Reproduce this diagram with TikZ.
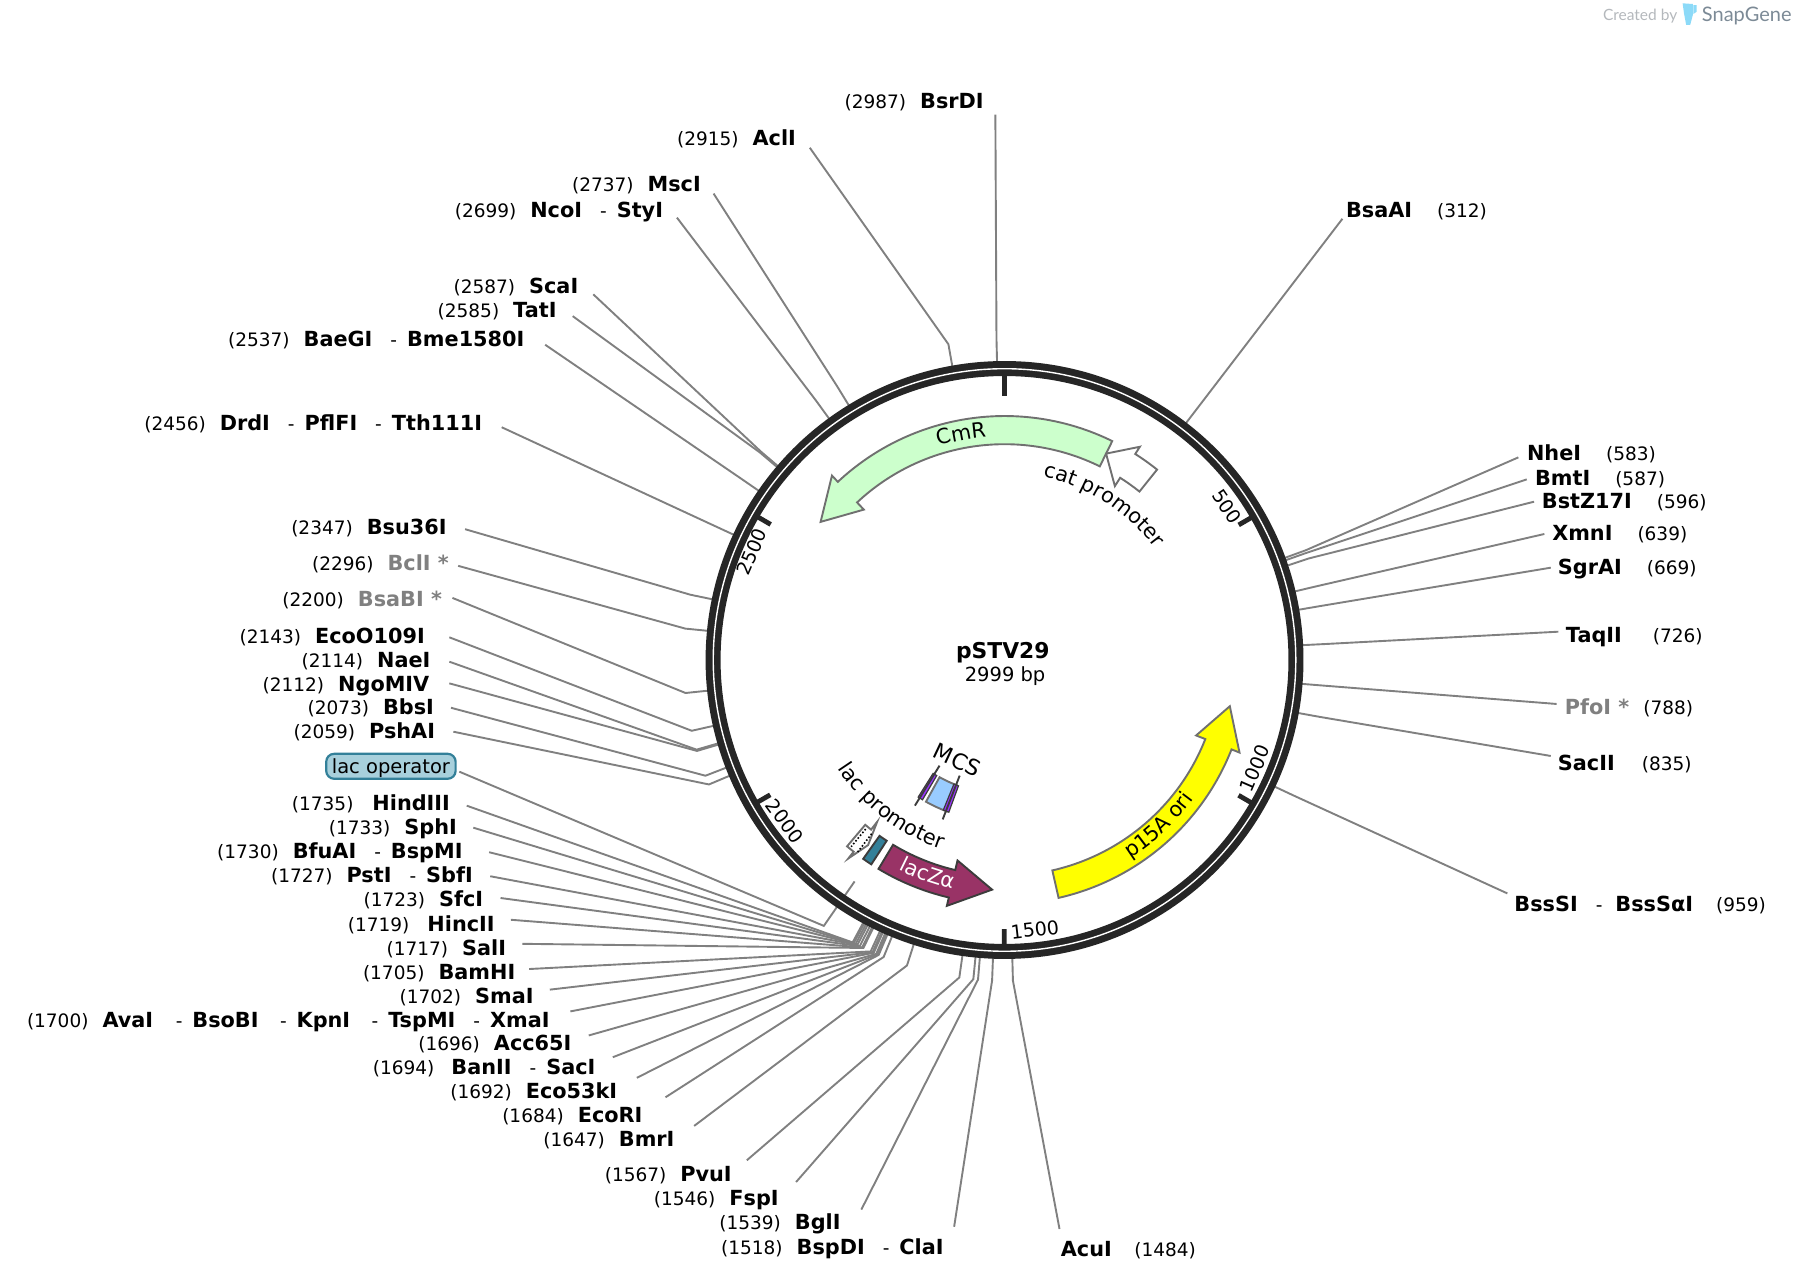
\documentclass[tikz,border=0pt]{standalone}
\usepackage{fontspec}
\setmainfont{DejaVu Sans}
\newfontfamily\logofont{Lato}
\usetikzlibrary{calc,decorations.text}
\definecolor{ringdark}{HTML}{262626}
\definecolor{leadgray}{HTML}{808080}
\definecolor{edgegray}{HTML}{707070}
\definecolor{cmrgreen}{HTML}{CCFFCC}
\definecolor{oriyellow}{HTML}{FFFF00}
\definecolor{laczred}{HTML}{993366}
\definecolor{opteal}{HTML}{338099}
\definecolor{oplight}{HTML}{A8D0DC}
\definecolor{mcsblue}{HTML}{99CCFF}
\definecolor{mcspurple}{HTML}{9933FF}
\definecolor{logogray}{HTML}{7C8A96}
\definecolor{logolight}{HTML}{B4B8BC}
\tikzset{
	sitelabel/.style={inner sep=0pt, text height=15.6pt, text depth=0pt, font=\fontsize{18.5}{20}\selectfont},
	siteline/.style={draw=leadgray, line width=1.9pt},
	featedge/.style={draw=edgegray, line width=1.9pt},
	ticklabel/.style={inner sep=0pt, font=\fontsize{19}{20}\selectfont},
	featlabel/.style={inner sep=0pt, font=\fontsize{19.5}{22}\selectfont}
}
\def\en#1{{\fontsize{20.8}{20}\selectfont\bfseries #1}}
\def\engray#1{{\fontsize{20.8}{20}\selectfont\bfseries\color{leadgray}#1}}
\def\hs{\hspace{14pt}}
\def\hsr{\hspace{25pt}}
\def\dsh{\hspace{18pt}-\hspace{10pt}}
\def\featfont{\fontsize{20.8}{22}\selectfont}
\def\site(#1:#2)(#3)[#4](#5)#6{
	\coordinate (ring#1) at ($(plasmid)+({#2*0.12004-90}:258)$);
	\coordinate (bend#1) at ($(plasmid)+({#2*0.12004-90}:280)$);
	\coordinate (end#1) at (#3);
	\node[sitelabel, anchor=#4] (label#1) at (#5) {#6};
	\draw[siteline] (ring#1) -- (bend#1) -- (end#1);
}
\def\featarrow[#1](#2:#3:#4){\draw[#1] (#2:213) arc[start angle=#2, end angle=#3, radius=213] -- (#3:220.5) -- (#4:200.8) -- (#3:179.8) -- (#3:188.4) arc[start angle=#3, end angle=#2, radius=188.4] -- cycle;}
\def\sector[#1](#2:#3:#4:#5){\draw[#1] (#2:#5) arc[start angle=#2, end angle=#3, radius=#5] -- (#3:#4) arc[start angle=#3, end angle=#2, radius=#4] -- cycle;}

\begin{document}
\begin{tikzpicture}[x=1.14541pt, y=-1.14541pt]
	%%%%% START %%%%%
	\useasboundingbox (0,0) rectangle (1568,1119.3);
	\coordinate (plasmid) at (877,576.2);

	% enzyme sites, top left
	\site(bsrdi:2987)(869,100)[east](859,88){(2987)\hs\en{BsrDI}}
	\site(acli:2915)(707,129)[east](695,120){(2915)\hs\en{AclI}}
	\site(msci:2737)(623,169)[east](612,160){(2737)\hs\en{MscI}}
	\site(ncoi:2699)(591,190)[east](579,183){(2699)\hs\en{NcoI}\dsh\en{StyI}}
	\site(scai:2587)(518,257)[east](505,249){(2587)\hs\en{ScaI}}
	\site(tati:2585)(500,276)[east](486,270){(2585)\hs\en{TatI}}
	\site(baegi:2537)(476,301)[east](458,296){(2537)\hs\en{BaeGI}\dsh\en{Bme1580I}}
	\site(drdi:2456)(438,373)[east](421,369){(2456)\hs\en{DrdI}\dsh\en{PflFI}\dsh\en{Tth111I}}

	% left side
	\site(bsu:2347)(406,462)[east](390,460){(2347)\hs\en{Bsu36I}}
	\site(bcli:2296)(400,494)[east](392,491){(2296)\hs\engray{BclI *}}
	\site(bsabi:2200)(395,522)[east](386,523){(2200)\hs\engray{BsaBI *}}
	\site(ecoo:2143)(392.3,556.4)[east](371,555){(2143)\hs\en{EcoO109I}}
	\site(naei:2114)(392.3,577.7)[east](376,576){(2114)\hs\en{NaeI}}
	\site(ngomiv:2112)(392.3,596.6)[east](375,597){(2112)\hs\en{NgoMIV}}
	\site(bbsi:2073)(393.7,617.9)[east](379,617){(2073)\hs\en{BbsI}}
	\site(pshai:2059)(395.8,638.8)[east](380,638){(2059)\hs\en{PshAI}}

	% the lac operator leader runs under the ring
	\node[featlabel, draw=opteal, fill=oplight, line width=2.2pt, rounded corners=8pt, minimum width=113pt*1.1454, minimum height=25pt, text height=18pt, text depth=3.2pt, anchor=center] (opname) at (341.3,669) {lac operator};
	\coordinate (opend) at (401,673.7);
	\coordinate (opbend) at ($(plasmid)+(124.2:280.7)$);
	\coordinate (opstart) at ($(plasmid)+(124.1:233.5)$);
	\draw[siteline] (opstart) -- (opbend) -- (opend);

	% the fan at the bottom left
	\site(hind:1735)(407.5,703.4)[east](393,701){(1735)\hs\hspace{5pt}\en{HindIII}}
	\site(sphi:1733)(413.2,722.6)[east](399,722){(1733)\hs\en{SphI}}
	\site(bfuai:1730)(427,744)[east](404,743){(1730)\hs\en{BfuAI}\dsh\en{BspMI}}
	\site(psti:1727)(428,765)[east](413,764){(1727)\hs\en{PstI}\dsh\en{SbfI}}
	\site(sfci:1723)(437,784)[east](422,785){(1723)\hs\en{SfcI}}
	\site(hincii:1719)(446,803)[east](432,806){(1719)\hs\hspace{4pt}\en{HincII}}
	\site(sali:1717)(456,824)[east](442,827){(1717)\hs\en{SalI}}
	\site(bamhi:1705)(462,846)[east](450,848){(1705)\hs\en{BamHI}}
	\site(smai:1702)(480,864)[east](466,869){(1702)\hs\en{SmaI}}
	\site(avai:1700)(498,883)[east](480,890){(1700)\hs\en{AvaI}\hspace{4.6pt}\dsh\en{BsoBI}\hspace{3.4pt}\dsh\en{KpnI}\hspace{3.4pt}\dsh\en{TspMI}\dsh\en{XmaI}}
	\site(acc:1696)(514,904)[east](499,910){(1696)\hs\en{Acc65I}}
	\site(banii:1694)(535,923)[east](520,931){(1694)\hs\hspace{3pt}\en{BanII}\dsh\en{SacI}}
	\site(ecok:1692)(556,941)[east](539,952){(1692)\hs\en{Eco53kI}}
	\site(ecori:1684)(581,958)[east](561,973){(1684)\hs\en{EcoRI}}
	\site(bmri:1647)(606,983)[east](589,994){(1647)\hs\en{BmrI}}
	\site(pvui:1567)(652,1013)[east](639,1025){(1567)\hs\en{PvuI}}
	\site(fspi:1546)(695,1032)[east](680,1046){(1546)\hs\en{FspI}}
	\site(bgli:1539)(752,1056)[east](734,1067){(1539)\hs\en{BglI}}
	\site(bspdi:1518)(833,1071)[east](824,1088){(1518)\hs\en{BspDI}\dsh\en{ClaI}}
	\site(acui:1487)(925,1073)[west](926,1090){\en{AcuI}\hspace{22.5pt}(1484)}

	% right side
	\site(bsaai:312)(1172,191)[west](1175,183){\en{BsaAI}\hsr(312)}
	\site(nhei:583)(1325.6,399.3)[west](1333,395){\en{NheI}\hsr(583)}
	\site(bmti:587)(1332.9,418.5)[west](1340,417){\en{BmtI}\hsr(587)}
	\site(bstz:596)(1339.3,438)[west](1346,437){\en{BstZ17I}\hsr(596)}
	\site(xmni:639)(1348.3,466.2)[west](1355,465){\en{XmnI}\hsr(639)}
	\site(sgrai:669)(1353.9,495.6)[west](1360,495){\en{SgrAI}\hsr(669)}
	\site(taqii:726)(1360.5,551.5)[west](1367,554){\en{TaqII}\hsr\hspace{6pt}(726)}
	\site(pfoi:788)(1359,614.6)[west](1366,617){\engray{PfoI *}\hspace{14pt}(788)}
	\site(sacii:835)(1353.9,660)[west](1360,666){\en{SacII}\hsr\hspace{2pt}(835)}
	\site(bsssi:959)(1316,780)[west](1322,789){\en{BssSI}\dsh\hspace{3pt}\en{BssSαI}\hspace{23pt}(959)}

	% the ring
	\draw[ringdark, line width=15pt] (plasmid) circle (254.45);
	\draw[white, line width=1.4pt] (plasmid) circle (254.3);

	\begin{scope}[shift={(877,576.2)}]
		% ticks
		\draw[ringdark, line width=4.8pt] (-90:230.5) -- (-90:250);
		\draw[ringdark, line width=4.8pt] (-29.98:236) -- (-29.98:250);
		\draw[ringdark, line width=4.8pt] (30.04:236) -- (30.04:250);
		\draw[ringdark, line width=4.8pt] (90.06:235) -- (90.06:250);
		\draw[ringdark, line width=4.8pt] (150.08:236) -- (150.08:250);
		\draw[ringdark, line width=4.8pt] (210.1:236) -- (210.1:250);
		\node[ticklabel, rotate=-55.4] (tick500) at (-34.6:236) {500};
		\node[ticklabel, rotate=66.6] (tick1000) at (23.4:238) {1000};
		\node[ticklabel, rotate=6.4] (tick1500) at (83.6:237) {1500};
		\node[ticklabel, rotate=-53.7] (tick2000) at (143.7:238) {2000};
		\node[ticklabel, rotate=66.8] (tick2500) at (203.2:240) {2500};

		% features
		\featarrow[featedge, fill=cmrgreen](-63.8:-133.1:-143.1)
		\featarrow[featedge, fill=white](-51.3:-57.6:-63.8)
		\featarrow[featedge, fill=oriyellow](77.2:21.5:11.6)
		\featarrow[draw=ringdark!90, line width=1.9pt, fill=laczred](121.1:103.2:93.1)
		\featarrow[featedge, fill=white](130.2:128.2:126.4)
		\draw[dotted, line width=1.6pt] (129.4:191) -- (129.4:211);
		\draw[dotted, line width=1.6pt] (127.4:191) -- (127.4:211);
		\sector[draw=ringdark!90, line width=1.9pt, fill=opteal](123.1:125.4:188.4:213)

		\sector[draw=edgegray, line width=1.9pt, fill=mcsblue](110.9:119:117:141.5)
		\sector[draw=ringdark!90, line width=1.2pt, fill=mcspurple](120.4:122.2:117:141.5)
		\sector[draw=ringdark!90, line width=1.2pt, fill=mcspurple](110.1:112.2:117:141.5)
		\draw[ringdark!90, line width=1.9pt] (121.6:108.3) -- (121.6:149.3);
		\draw[ringdark!90, line width=1.9pt] (111.2:108.3) -- (111.2:149.3);
		\node[inner sep=0pt, font=\fontsize{22}{24}\selectfont, rotate=-25.3] (mcsname) at (115.3:96.6) {MCS};

		% feature names on the arcs
		\path[decorate, decoration={text along path, text align=center, text={|\featfont|CmR}}] (-130.9:195.5) arc[start angle=-130.9, end angle=-70.9, radius=195.5];
		\path[decorate, decoration={text along path, text align=center, text={|\featfont|cat promoter}}] (-87.4:163.5) arc[start angle=-87.4, end angle=-27.4, radius=163.5];
		\path[decorate, decoration={text along path, text align=center, text={|\featfont|p15A ori}}] (77:205) arc[start angle=77, end angle=17, radius=205];
		\path[decorate, decoration={text along path, text align=center, text={|\featfont\color{white}|lacZα}}] (139.7:205) arc[start angle=139.7, end angle=79.7, radius=205];
		\path[decorate, decoration={text along path, text align=center, text={|\featfont|lac promoter}}] (157.7:174) arc[start angle=157.7, end angle=97.7, radius=174];
	\end{scope}

	% the name in the middle
	\node[inner sep=0pt, font=\fontsize{21.8}{24}\selectfont\bfseries] (name) at (875.5,569.5) {pSTV29};
	\node[inner sep=0pt, font=\fontsize{19.5}{22}\selectfont] (size) at (877.5,590.5) {2999 bp};

	% logo
	\node[inner sep=0pt, anchor=east, text=logolight, font=\logofont\fontsize{15.5}{18}\selectfont] (created) at (1464.5,14.2) {Created by};
	\node[inner sep=0pt, anchor=west, text=logogray, font=\logofont\fontsize{20}{22}\selectfont] (snapgene) at (1485.7,14) {SnapGene};
	\fill[cyan!45] (1469,2.9) -- (1477.9,3.5) -- (1477.9,13.1) -- (1475.6,21.8) -- (1472.1,21.8) -- (1470.2,11.6) -- cycle;
	\fill[cyan!45] (1478.4,4.4) -- (1481.3,4.4) -- (1481.3,10.2) -- (1478.4,12.2) -- cycle;
	%%%%% END %%%%%
\end{tikzpicture}
\end{document}
